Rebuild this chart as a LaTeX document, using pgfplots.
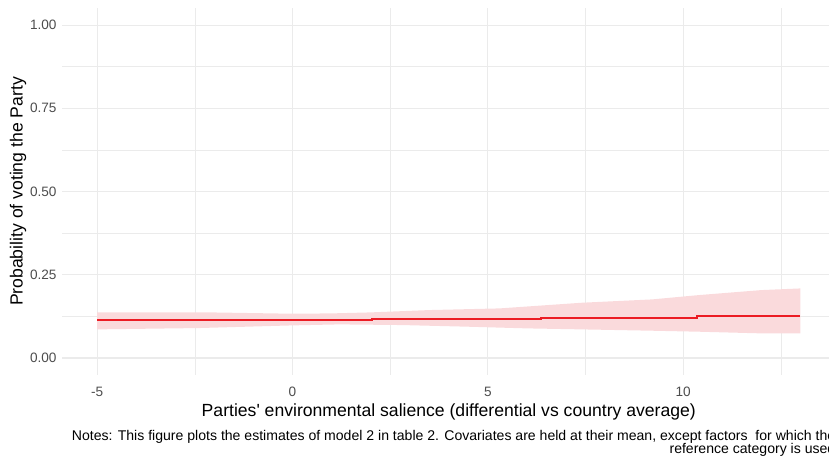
\documentclass[border=0pt]{standalone}
\usepackage{pgfplots}
\pgfplotsset{compat=1.18}
\usepackage{fontspec}
\setmainfont{Liberation Sans}

\definecolor{gridcol}{RGB}{235,235,235}
\definecolor{linered}{RGB}{236,28,36}
\definecolor{ribbon}{RGB}{250,218,220}
\definecolor{ticktext}{RGB}{77,77,77}

\begin{document}
\begin{tikzpicture}
\begin{axis}[
  scale only axis,
  width=580.2pt, height=274.7pt,
  xmin=-5.9, xmax=13.9,
  ymin=-0.05, ymax=1.05,
  axis line style={draw=none},
  tick style={draw=none},
  xtick={-5,0,5,10},
  xticklabels={-5,0,5,10},
  ytick={0,0.25,0.5,0.75,1},
  yticklabels={0.00,0.25,0.50,0.75,1.00},
  minor xtick={-2.5,2.5,7.5,12.5},
  minor ytick={0.125,0.375,0.625,0.875},
  grid=both,
  major grid style={draw=gridcol, line width=0.8pt},
  minor grid style={draw=gridcol, line width=0.45pt},
  ticklabel style={font=\fontsize{10.2}{12}\selectfont, text=ticktext},
  xticklabel style={anchor=base, yshift=-16.5pt},
  yticklabel style={xshift=-0.6pt},
  /pgf/number format/assume math mode=true,
  clip=false,
]
% confidence band around the predicted probability
\addplot[fill=ribbon, draw=none] coordinates {
  (-5,0.137) (-2.1,0.137) (0,0.133) (1,0.134) (2,0.137) (3.5,0.144)
  (5.3,0.149) (7.4,0.166) (9.2,0.176) (10.4,0.189) (12,0.204) (13,0.209)
  (13,0.074) (12,0.074) (10.4,0.079) (9.2,0.082) (7.4,0.086) (6,0.089)
  (4.5,0.094) (2.8,0.099) (1.2,0.101) (0,0.098) (-2.4,0.090) (-5,0.086)
} -- cycle;
% predicted probability
\addplot[const plot, draw=linered, line width=1.6pt] coordinates {
  (-5,0.113) (-2.12,0.115) (2.04,0.118) (6.36,0.121) (10.35,0.125) (13,0.125)
};
\coordinate (bl) at (rel axis cs:0,0);
\coordinate (tr) at (rel axis cs:1,1);
\node[rotate=90, font=\fontsize{13.2}{15}\selectfont] at ([xshift=-33pt]rel axis cs:0,0.5)
  {Probability of voting the Party};
\node[anchor=base, font=\fontsize{13.2}{15}\selectfont] at ([yshift=-31.5pt]rel axis cs:0.5,0)
  {Parties\textquotesingle\ environmental salience (differential vs country average)};
\node[anchor=base east, inner sep=0pt, font=\fontsize{10.55}{12}\selectfont]
  at ([yshift=-49pt]rel axis cs:1,0)
  {Notes: This figure plots the estimates of model 2 in table 2. Covariates are held at their mean, except factors\ \ for which the};
\node[anchor=base east, inner sep=0pt, font=\fontsize{10.55}{12}\selectfont]
  at ([yshift=-59pt]rel axis cs:1,0)
  {reference category is used};
\end{axis}
\pgfresetboundingbox
\path[use as bounding box] ([shift={(-46.5pt,-61.7pt)}]bl) rectangle ([shift={(-4.95pt,6.3pt)}]tr);
\end{tikzpicture}
\end{document}
